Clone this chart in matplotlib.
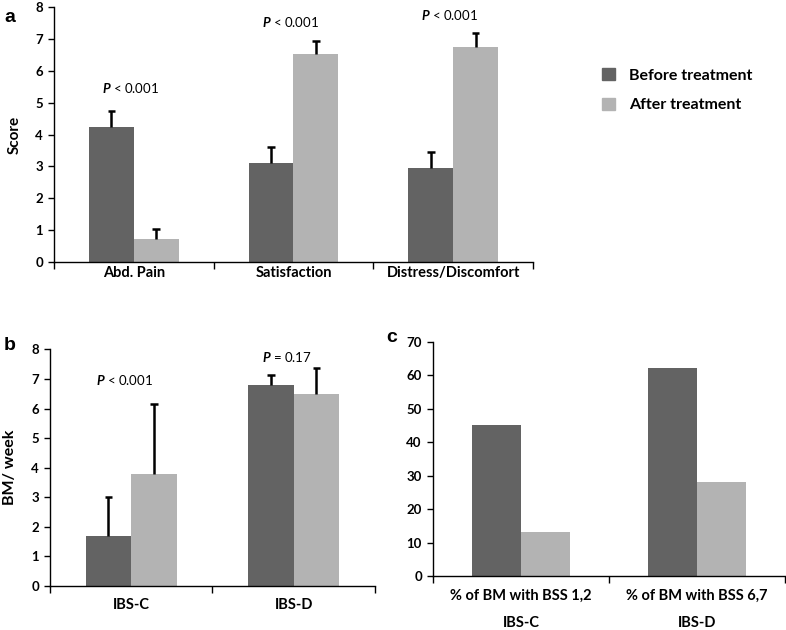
import numpy as np
import matplotlib
matplotlib.use("Agg")
import matplotlib.pyplot as plt
from matplotlib.patches import Patch

plt.rcParams["font.family"] = ["Lato", "DejaVu Sans"]
plt.rcParams["mathtext.fontset"] = "custom"
plt.rcParams["mathtext.it"] = "Lato:italic:bold"
plt.rcParams["mathtext.rm"] = "Lato:bold"

# ---- data -------------------------------------------------------------
series = ["Before treatment", "After treatment"]

a_cats = ["Abd. Pain", "Satisfaction", "Distress/Discomfort"]
a_before = [4.22, 3.11, 2.95]
a_after = [0.73, 6.54, 6.75]
a_before_err = [0.53, 0.50, 0.51]
a_after_err = [0.31, 0.38, 0.42]
a_ptext = ["$P$ < 0.001", "$P$ < 0.001", "$P$ < 0.001"]
a_py = [5.45, 7.52, 7.74]

b_cats = ["IBS-C", "IBS-D"]
b_before = [1.69, 6.79]
b_after = [3.78, 6.49]
b_before_err = [1.31, 0.35]
b_after_err = [2.38, 0.87]
b_ptext = ["$P$ < 0.001", "$P$ = 0.17"]
b_py = [6.95, 7.75]

c_cats = ["% of BM with BSS 1,2", "% of BM with BSS 6,7"]
c_groups = ["IBS-C", "IBS-D"]
c_before = [45, 62]
c_after = [13, 28]

DARK = "#636363"
LIGHT = "#b3b3b3"
W = 0.28
CAP = 0.024  # half width of the error cap, in category units


def style(ax, n, ymax, ystep):
    ax.set_xlim(-0.5, n - 0.5)
    ax.set_ylim(0, ymax)
    ax.set_yticks(np.arange(0, ymax + 0.01, ystep))
    for s in ("top", "right"):
        ax.spines[s].set_visible(False)
    for s in ("left", "bottom"):
        ax.spines[s].set_linewidth(1.0)
    ax.set_xticks(np.arange(n + 1) - 0.5, minor=True)
    ax.set_xticks([])
    ax.tick_params(axis="x", which="minor", length=5, width=1, direction="out")
    ax.tick_params(axis="y", length=4, width=1, labelsize=9.5, pad=4)
    for t in ax.get_yticklabels():
        t.set_fontweight("bold")


def upper_err(ax, xs, tops, errs):
    # only the upper half of the error bar, as in the original figure
    for xi, t, e in zip(xs, tops, errs):
        ax.vlines(xi, t, t + e, color="black", lw=1.8, zorder=3)
        ax.hlines(t + e, xi - CAP, xi + CAP, color="black", lw=1.8, zorder=3)


def bars(ax, before, after, be=None, ae=None):
    x = np.arange(len(before))
    ax.bar(x - W / 2, before, W, color=DARK)
    ax.bar(x + W / 2, after, W, color=LIGHT)
    if be is not None:
        upper_err(ax, x - W / 2, before, be)
        upper_err(ax, x + W / 2, after, ae)
    return x


def catlabels(ax, x, labels, off):
    for xi, lab in zip(x, labels):
        ax.annotate(lab, xy=(xi, 0), xycoords=("data", "axes fraction"),
                    xytext=(0, -off), textcoords="offset points",
                    ha="center", va="center", fontsize=10.5, fontweight="bold")


fig = plt.figure(figsize=(7.86, 6.3), dpi=100)

# ---- panel a ----------------------------------------------------------
ax = fig.add_axes([0.0687, 0.5841, 0.6094, 0.4048])
x = bars(ax, a_before, a_after, a_before_err, a_after_err)
style(ax, 3, 8, 1)
catlabels(ax, x, a_cats, 8)
for xi, t, yy in zip(x, a_ptext, a_py):
    ax.text(xi - 0.02, yy, t, ha="center", va="center", fontsize=9.5)
ax.set_ylabel("Score", fontsize=11, fontweight="bold", labelpad=10)
fig.text(0.005, 0.985, "a", fontsize=14, fontweight="bold",
         family="Liberation Sans", va="top")

fig.legend(handles=[Patch(color=DARK), Patch(color=LIGHT)], labels=series,
           loc="upper left", bbox_to_anchor=(0.748, 0.915), frameon=False,
           handlelength=0.8, handleheight=0.8, handletextpad=0.85,
           labelspacing=0.95, prop=dict(family="Lato", weight="bold", size=11.5))

# ---- panel b ----------------------------------------------------------
ax = fig.add_axes([0.0636, 0.0698, 0.4135, 0.3757])
x = bars(ax, b_before, b_after, b_before_err, b_after_err)
style(ax, 2, 8, 1)
catlabels(ax, x, b_cats, 14)
for xi, t, yy in zip(x, b_ptext, b_py):
    ax.text(xi - 0.04, yy, t, ha="center", va="center", fontsize=9.5)
ax.set_ylabel("BM/ week", fontsize=11.5, fontweight="bold", labelpad=10)
fig.text(0.005, 0.465, "b", fontsize=14, fontweight="bold",
         family="Liberation Sans", va="top")

# ---- panel c ----------------------------------------------------------
ax = fig.add_axes([0.5509, 0.0857, 0.4478, 0.3719])
x = bars(ax, c_before, c_after)
style(ax, 2, 70, 10)
catlabels(ax, x, c_cats, 14.5)
catlabels(ax, x, c_groups, 33.5)
fig.text(0.492, 0.478, "c", fontsize=14, fontweight="bold",
         family="Liberation Sans", va="top")

fig.savefig("out.png", dpi=100)
